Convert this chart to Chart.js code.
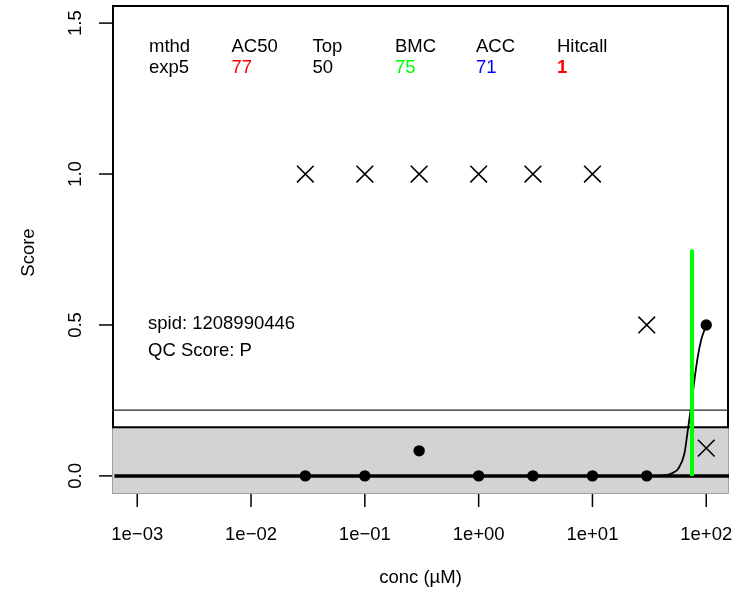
<!DOCTYPE html>
<html>
<head>
<meta charset="utf-8">
<script src="https://cdn.jsdelivr.net/npm/chart.js@4/dist/chart.umd.min.js"></script>
<style>
  html, body { margin: 0; padding: 0; background: #ffffff; }
  canvas { display: block; }
</style>
</head>
<body>
<canvas id="c" width="752" height="594"></canvas>
<script>
// ---- data ----
const concLevels   = [0.03, 0.1, 0.3, 1, 3, 10, 30, 100];
const respValues   = [0, 0, 0.083, 0, 0, 0, 0, 0.5];
const crossConc    = [0.03, 0.1, 0.3, 1, 3, 10, 30, 100];
const crossValues  = [1, 1, 1, 1, 1, 1, 0.5, 0.092];
const curveConc    = [0.001, 1, 10, 30, 40, 46.5, 52, 56.8, 64.3, 68.9, 73.6, 78.7, 84.3, 90.2, 96.3, 100];
const curveResp    = [0, 0, 0, 0, 0.001, 0.004, 0.012, 0.024, 0.074, 0.152, 0.229, 0.317, 0.395, 0.45, 0.483, 0.5];
const bmcConc      = [75, 75];
const bmcResp      = [0, 0.75];
const cutoffLevel  = 0.1615;
const upperLevel   = 0.218;
const xTicks       = [1e-3, 1e-2, 1e-1, 1, 10, 100];
const xTickLabels  = ['1e\u221203', '1e\u221202', '1e\u221201', '1e+00', '1e+01', '1e+02'];
const yTicks       = [0, 0.5, 1, 1.5];
const yTickLabels  = ['0.0', '0.5', '1.0', '1.5'];
const xLimits      = [Math.pow(10, -3.2), Math.pow(10, 2.2)];
const yLimits      = [-0.06, 1.56];
const headerNames  = ['mthd', 'AC50', 'Top', 'BMC', 'ACC', 'Hitcall'];
const headerValues = ['exp5', '77', '50', '75', '71', '1'];
const headerColors = ['#000000', '#ff0000', '#000000', '#00ff00', '#0000ff', '#ff0000'];
const infoLines    = ['spid: 1208990446', 'QC Score: P'];

const FONT = '"Liberation Sans", Arial, Helvetica, sans-serif';
const FS = 18.5;

const toPts = (xs, ys) => xs.map((x, i) => ({x: x, y: ys[i]}));

const decor = {
  id: 'decor',
  beforeDatasetsDraw(chart) {
    const ctx = chart.ctx, a = chart.chartArea;
    const ys = chart.scales.y;
    const yc = ys.getPixelForValue(cutoffLevel);
    const yu = ys.getPixelForValue(upperLevel);
    ctx.save();
    // grey band
    ctx.fillStyle = '#d3d3d3';
    ctx.fillRect(a.left, yc, a.right - a.left, a.bottom - yc);
    ctx.strokeStyle = '#a0a0a0';
    ctx.lineWidth = 1;
    ctx.beginPath();
    ctx.moveTo(a.left + 0.5, yc); ctx.lineTo(a.left + 0.5, a.bottom - 0.5);
    ctx.lineTo(a.right - 0.5, a.bottom - 0.5); ctx.lineTo(a.right - 0.5, yc);
    ctx.stroke();
    // box border (above band)
    ctx.strokeStyle = '#000000';
    ctx.lineWidth = 2;
    ctx.beginPath();
    ctx.moveTo(a.left + 1, yc); ctx.lineTo(a.left + 1, a.top + 1);
    ctx.lineTo(a.right - 1, a.top + 1); ctx.lineTo(a.right - 1, yc);
    ctx.stroke();
    // cutoff line
    ctx.beginPath();
    ctx.moveTo(a.left, yc); ctx.lineTo(a.right, yc);
    ctx.stroke();
    // upper thin line
    ctx.lineWidth = 1.3;
    ctx.strokeStyle = '#222222';
    ctx.beginPath();
    ctx.moveTo(a.left, yu); ctx.lineTo(a.right, yu);
    ctx.stroke();
    ctx.restore();
  },
  afterDraw(chart) {
    const ctx = chart.ctx, a = chart.chartArea;
    const xs = chart.scales.x, ys = chart.scales.y;
    ctx.save();
    ctx.strokeStyle = '#000000';
    ctx.fillStyle = '#000000';
    ctx.lineWidth = 1.5;
    ctx.font = FS + 'px ' + FONT;
    // x ticks
    ctx.textAlign = 'center';
    ctx.textBaseline = 'alphabetic';
    xTicks.forEach((t, i) => {
      const px = xs.getPixelForValue(t);
      ctx.beginPath();
      ctx.moveTo(px, a.bottom); ctx.lineTo(px, a.bottom + 13);
      ctx.stroke();
      ctx.fillText(xTickLabels[i], px, 540);
    });
    // y ticks
    yTicks.forEach((t, i) => {
      const py = ys.getPixelForValue(t);
      ctx.beginPath();
      ctx.moveTo(a.left - 13, py); ctx.lineTo(a.left, py);
      ctx.stroke();
      ctx.save();
      ctx.translate(81, py);
      ctx.rotate(-Math.PI / 2);
      ctx.fillText(yTickLabels[i], 0, 0);
      ctx.restore();
    });
    // axis titles
    ctx.fillText('conc (\u00b5M)', (a.left + a.right) / 2, 583);
    ctx.save();
    ctx.translate(34, (a.top + a.bottom) / 2 + 3);
    ctx.rotate(-Math.PI / 2);
    ctx.fillText('Score', 0, 0);
    ctx.restore();
    // header table
    ctx.textAlign = 'left';
    const colX = [149, 231.5, 312.5, 395, 476, 557];
    headerNames.forEach((n, i) => {
      ctx.fillStyle = '#000000';
      ctx.font = FS + 'px ' + FONT;
      ctx.fillText(n, colX[i], 51.7);
      ctx.fillStyle = headerColors[i];
      ctx.font = (i === 5 ? 'bold ' : '') + FS + 'px ' + FONT;
      ctx.fillText(headerValues[i], colX[i], 73.3);
    });
    // info lines
    ctx.fillStyle = '#000000';
    ctx.font = FS + 'px ' + FONT;
    ctx.fillText(infoLines[0], 148, 329);
    ctx.fillText(infoLines[1], 148, 356);
    ctx.restore();
  }
};

new Chart(document.getElementById('c'), {
  type: 'scatter',
  data: {
    datasets: [
      {
        type: 'line',
        data: toPts(xLimits, [0, 0]),
        borderColor: '#000000', borderWidth: 3.5,
        pointRadius: 0, fill: false, order: 5
      },
      {
        type: 'line',
        data: toPts(curveConc, curveResp),
        borderColor: '#000000', borderWidth: 1.8,
        pointRadius: 0, fill: false, cubicInterpolationMode: 'monotone', order: 4
      },
      {
        data: toPts(concLevels, respValues),
        pointStyle: 'circle', pointRadius: 5.7,
        backgroundColor: '#000000', borderColor: '#000000', borderWidth: 0, order: 3
      },
      {
        data: toPts(crossConc, crossValues),
        pointStyle: 'crossRot', pointRadius: 11.8,
        borderColor: '#000000', borderWidth: 1.6, order: 2
      },
      {
        type: 'line',
        data: toPts(bmcConc, bmcResp),
        borderColor: '#00ff00', borderWidth: 4,
        pointRadius: 0, fill: false, order: 1
      }
    ]
  },
  options: {
    responsive: false,
    devicePixelRatio: 1,
    animation: false,
    events: [],
    layout: { autoPadding: false, padding: { left: 112, top: 5, right: 23, bottom: 100 } },
    plugins: { legend: { display: false }, tooltip: { enabled: false }, title: { display: false } },
    scales: {
      x: { type: 'logarithmic', min: xLimits[0], max: xLimits[1], display: false },
      y: { type: 'linear', min: yLimits[0], max: yLimits[1], display: false }
    }
  },
  plugins: [decor]
});
</script>
</body>
</html>
